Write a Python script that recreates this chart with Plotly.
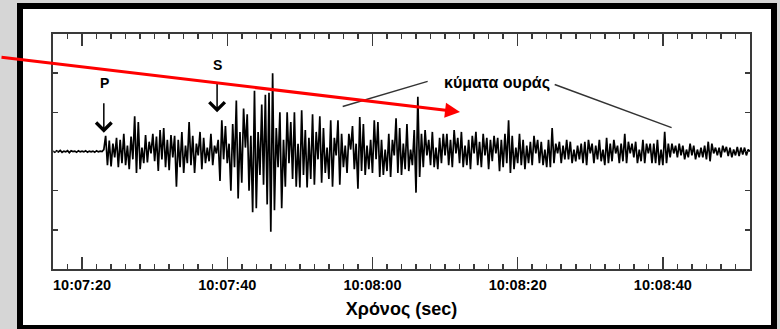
import plotly.graph_objects as go
import pandas as pd

# ---- data: seismogram amplitudes (relative units), one sample every 0.25 s from 10:07:16 ----
pre_event = [0.01, -0.02, 0.02, -0.01, 0.03, -0.02, 0.01, -0.01,
             0.02, -0.03, 0.02, 0.00, 0.01, -0.02, 0.02, -0.01,
             0.01, -0.01, 0.02, -0.02, 0.01, -0.01, 0.01, -0.02,
             0.02, -0.01, 0.01, 0.00]
p_coda = [0.05, 0.40, -0.35, 0.28, -0.38, 0.20, -0.15, 0.35,
          -0.40, 0.30, -0.30, 0.45, -0.35, 0.15, -0.45, 0.38,
          -0.20, 0.90, -0.55, 0.75, -0.45, 0.10, -0.30, 0.42,
          -0.28, 0.25, -0.05, 0.45, -0.25, 0.38, -0.50, 0.55,
          -0.20, 0.60, -0.40, 0.30, -0.48, 0.42, -0.15, 0.40,
          -0.90, 0.30, -0.40, 0.50, -0.55, 0.15, -0.30, 0.75,
          -0.35, 0.40, -0.55, 0.20, -0.10, 0.50, -0.45, 0.35,
          -0.30, 0.10, -0.25, 0.45, -0.35, 0.15, -0.05, 0.30]
s_waves = [-0.75, 0.80, -0.20, 0.65, -0.30, 0.20, -1.00, 0.70,
           -0.40, 1.30, -1.20, 0.50, -0.80, 1.10, 0.10, 0.95,
           -1.00, 0.40, -1.55, 1.55, -1.45, 0.50, -0.60, 1.20,
           -0.85, 1.45, -1.35, 1.50, -2.05, 2.00, -1.50, 0.60,
           -0.40, 1.00, -1.45, 0.30]
surface_waves = [-0.90, 1.00, -0.30, 0.75, -0.70, 1.00, -0.90, 0.20,
                 -0.92, 1.05, -0.60, 0.55, -0.92, 0.35, -0.70, 0.95,
                 -0.85, 0.50, -0.20, 0.90, -0.80, 0.60, -0.55, 0.10,
                 -0.70, 0.80, -0.90, 0.35, -0.10, 0.80, -0.85, 0.45,
                 -0.40, 0.15, -0.55, 0.45, 0.05, 0.65, -0.45, 0.20,
                 -0.95, 0.88, -0.50, 0.70, -0.60, 0.15, -0.45, 0.30,
                 -0.55, 0.80, -0.20, 0.75, -0.65, 0.30, -0.60, 0.05,
                 -0.50, 0.45, -0.65, 0.30, -0.10, 0.85, -0.55, 0.60,
                 -0.60, 0.20, -0.45, 0.70, -0.50, 0.05, -0.35, 0.55,
                 -1.05, 1.40, -0.65, 0.45, -0.40, 0.55, -0.10, 0.30,
                 -0.35, 0.50, -0.40, 0.10, -0.45, 0.35, -0.30, 0.45,
                 -0.10, 0.45, -0.35, 0.30, -0.40, 0.55, -0.05, 0.35,
                 -0.30, 0.50, -0.40, 0.15, -0.35, 0.30, -0.45, 0.40,
                 -0.05, 0.50, -0.35, 0.25, -0.40, 0.45, -0.10, 0.35,
                 -0.45, 0.30, -0.25, 0.40, -0.05, 0.35, -0.50, 0.30,
                 -0.40, 0.45, -0.30, 0.80]
coda_tail = [-0.55, 0.40, -0.45, 0.10, -0.30, 0.45, -0.35, 0.30,
             -0.45, 0.15, -0.30, 0.25, -0.35, 0.40, -0.05, 0.30,
             -0.30, 0.25, -0.35, 0.05, -0.40, 0.30, -0.40, 0.60,
             -0.30, 0.20, -0.05, 0.25, -0.30, 0.15, -0.20, 0.30,
             -0.20, 0.25, -0.30, 0.05, -0.25, 0.15, -0.20, 0.20,
             -0.30, 0.25, -0.35, 0.30, -0.05, 0.20, -0.30, 0.15,
             -0.20, 0.30, -0.25, 0.05, -0.35, 0.35, -0.30, 0.20,
             -0.25, 0.30, -0.05, 0.15, -0.30, 0.20, -0.25, 0.45,
             -0.30, 0.25, -0.05, 0.20, -0.15, 0.25, -0.30, 0.05,
             -0.25, 0.30, -0.30, 0.20, -0.05, 0.20, -0.30, 0.20,
             -0.30, 0.30, -0.35, 0.05, -0.35, 0.50, -0.30, 0.20,
             -0.15, 0.20, -0.05, 0.15, -0.15, 0.20, -0.10, 0.15,
             -0.20, 0.05, -0.15, 0.20, -0.10, 0.15, -0.20, 0.05,
             -0.15, 0.10, -0.15, 0.15, -0.20, 0.25, -0.25, 0.20,
             -0.05, 0.10, -0.10, 0.10, -0.15, 0.15, -0.02, 0.12,
             -0.12, 0.10, -0.15, 0.05, -0.10, 0.12, -0.12, 0.10,
             -0.08, 0.10, -0.10, 0.05, 0.00]

amplitude = pre_event + p_coda + s_waves + surface_waves + coda_tail
start_time = pd.Timestamp("2024-01-01 10:07:16")
sample_step_s = 0.25
times = [(start_time + pd.Timedelta(seconds=sample_step_s * i)).strftime("%Y-%m-%d %H:%M:%S.%f")
         for i in range(len(amplitude))]

x_range = ["2024-01-01 10:07:16", "2024-01-01 10:08:52"]
x_title = "Χρόνος (sec)"
phase_labels = ["P", "S"]
phase_times = ["2024-01-01 10:07:23.0", "2024-01-01 10:07:38.6"]
tail_label = "κύματα ουράς"

FONT = "Liberation Sans, Arial, sans-serif"
AX = "#3a3a3a"

# figure geometry helpers (pixel -> paper)
W, H = 780, 329
L, R, T, B = 53, 30, 34, 60
pw, ph = W - L - R, H - T - B
def px(p):
    return (p - L) / pw
def py(p):
    return (H - B - p) / ph

fig = go.Figure()
fig.add_trace(go.Scatter(x=times, y=amplitude, mode="lines",
                         line=dict(color="black", width=1.7), hoverinfo="skip",
                         showlegend=False))

shapes = [
    dict(type="rect", xref="paper", yref="paper", x0=px(17), x1=px(777), y0=py(340), y1=py(3),
         fillcolor="black", line=dict(width=0), layer="below"),
    dict(type="rect", xref="paper", yref="paper", x0=px(23), x1=px(771), y0=py(325), y1=py(9),
         fillcolor="white", line=dict(width=0), layer="below"),
    # callout lines for tail waves
    dict(type="line", xref="x", yref="y", x0="2024-01-01 10:07:55.9", y0=1.15,
         x1="2024-01-01 10:08:07.6", y1=1.79, line=dict(color="#333333", width=1.5)),
    dict(type="line", xref="x", yref="y", x0="2024-01-01 10:08:25.1", y0=1.71,
         x1="2024-01-01 10:08:41.2", y1=0.61, line=dict(color="#333333", width=1.5)),
]

annotations = [
    # P arrow + label
    dict(x=phase_times[0], y=0.48, xref="x", yref="y", text="", showarrow=True,
         ax=0, ay=-31, arrowhead=4, arrowsize=2, arrowwidth=1.5, arrowcolor="black"),
    dict(x="2024-01-01 10:07:23.1", y=1.74, xref="x", yref="y", text=phase_labels[0],
         showarrow=False, font=dict(family=FONT, size=14, color="black", weight="bold")),
    # S arrow + label
    dict(x=phase_times[1], y=1.0, xref="x", yref="y", text="", showarrow=True,
         ax=0, ay=-31, arrowhead=4, arrowsize=2, arrowwidth=1.5, arrowcolor="black"),
    dict(x="2024-01-01 10:07:38.7", y=2.22, xref="x", yref="y", text=phase_labels[1],
         showarrow=False, font=dict(family=FONT, size=14, color="black", weight="bold")),
    # tail label
    dict(x="2024-01-01 10:08:17.1", y=1.76, xref="x", yref="y", text=tail_label,
         showarrow=False, font=dict(family=FONT, size=16, color="black", weight="bold")),
    # red propagation arrow
    dict(x=px(460), y=py(112), xref="paper", yref="paper", text="", showarrow=True,
         ax=-460, ay=-55, arrowhead=2, arrowsize=1, arrowwidth=3, arrowcolor="#ff0000"),
]

fig.update_layout(
    width=W, height=H,
    margin=dict(l=L, r=R, t=T, b=B, pad=0, autoexpand=False),
    paper_bgcolor="#d6d6d6", plot_bgcolor="white",
    shapes=shapes, annotations=annotations,
    font=dict(family=FONT, color="black"),
    xaxis=dict(type="date", range=x_range, tickformat="%H:%M:%S",
               tick0="2024-01-01 10:07:00", dtick=20000,
               ticks="inside", ticklen=12, tickwidth=1.5, tickcolor=AX,
               minor=dict(tick0="2024-01-01 10:07:00", dtick=2000, ticks="inside",
                          ticklen=5, tickwidth=1.5, tickcolor=AX, showgrid=False),
               showline=True, linecolor=AX, linewidth=2, mirror="ticks",
               showgrid=False, zeroline=False, ticklabelstandoff=2,
               tickfont=dict(family=FONT, size=14.5, color="black", weight="bold"),
               title=dict(text=x_title, standoff=10,
                          font=dict(family=FONT, size=18, color="black", weight="bold"))),
    yaxis=dict(range=[-3, 3], dtick=1, ticks="inside", ticklen=5, tickwidth=1.5,
               tickcolor=AX, showticklabels=False, showline=True, linecolor=AX,
               linewidth=2, mirror="ticks", showgrid=False, zeroline=False),
)

fig.write_html("out.html", config={"displayModeBar": False, "staticPlot": True},
               post_script="document.body.style.margin='0';document.body.style.padding='0';")
